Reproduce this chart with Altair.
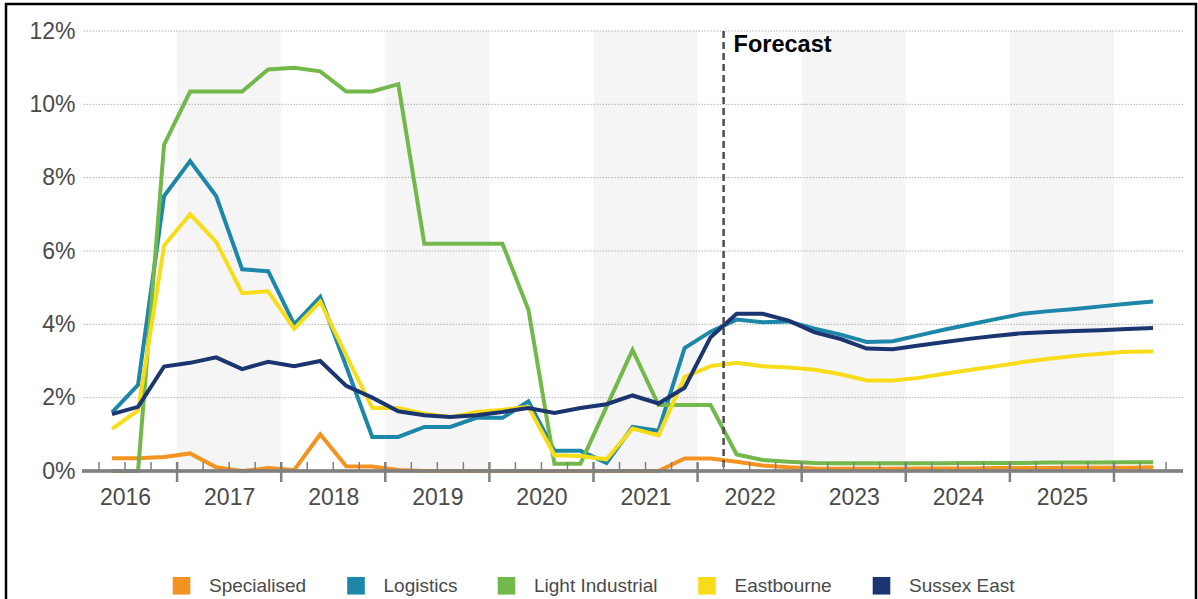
import altair as alt
import pandas as pd

# ---------------- data ----------------
series_names = ["Specialised", "Logistics", "Light Industrial", "Eastbourne", "Sussex East"]
series_colors = ["#F39322", "#1D87A9", "#73B84B", "#F8DC1A", "#1B3570"]

# quarterly observations, 2016 Q2 .. 2026 Q2
quarters = [f"{y} Q{q}" for y in range(2016, 2027) for q in range(1, 5)][1:42]

specialised = [0.35, 0.35, 0.38, 0.48, 0.10, 0.00, 0.08, 0.03, 1.00, 0.13,
               0.12, 0.03, 0.00, 0.00, 0.00, 0.00, 0.00, 0.00, 0.00, 0.00,
               0.00, 0.00, 0.34, 0.34, 0.25, 0.15, 0.10,
               0.07, 0.06, 0.06, 0.06, 0.07, 0.07, 0.07, 0.08, 0.08, 0.08, 0.09, 0.09, 0.09, 0.10]
logistics = [1.60, 2.35, 7.50, 8.45, 7.50, 5.50, 5.45, 4.00, 4.75, 2.85,
             0.93, 0.93, 1.20, 1.20, 1.45, 1.45, 1.90, 0.55, 0.55, 0.22,
             1.20, 1.10, 3.35, 3.80, 4.13, 4.06, 4.08,
             3.88, 3.72, 3.52, 3.54, 3.70, 3.86, 4.00, 4.15, 4.29, 4.36, 4.42, 4.49, 4.56, 4.62]
light_industrial = [0.00, 0.00, 8.90, 10.35, 10.35, 10.35, 10.95, 11.00, 10.90, 10.35,
                    10.35, 10.55, 6.20, 6.20, 6.20, 6.20, 4.40, 0.20, 0.20, 1.75,
                    3.30, 1.80, 1.80, 1.80, 0.45, 0.30, 0.25,
                    0.22, 0.21, 0.21, 0.21, 0.21, 0.21, 0.22, 0.22, 0.22, 0.23, 0.23, 0.23, 0.24, 0.24]
eastbourne = [1.15, 1.65, 6.15, 7.00, 6.25, 4.85, 4.90, 3.88, 4.62, 3.15,
              1.72, 1.72, 1.56, 1.47, 1.61, 1.67, 1.75, 0.43, 0.41, 0.32,
              1.16, 0.97, 2.56, 2.86, 2.95, 2.86, 2.82,
              2.76, 2.64, 2.47, 2.47, 2.54, 2.65, 2.76, 2.86, 2.97, 3.06, 3.14, 3.20, 3.25, 3.26]
sussex_east = [1.55, 1.75, 2.85, 2.95, 3.10, 2.78, 2.98, 2.86, 3.00, 2.32,
               2.00, 1.63, 1.52, 1.47, 1.52, 1.61, 1.72, 1.58, 1.72, 1.82,
               2.06, 1.84, 2.27, 3.65, 4.29, 4.29, 4.10,
               3.78, 3.60, 3.34, 3.32, 3.42, 3.52, 3.61, 3.69, 3.76, 3.79, 3.82, 3.84, 3.87, 3.90]

year_labels = [2016, 2017, 2018, 2019, 2020, 2021, 2022, 2023, 2024, 2025]
shaded_years = [2017, 2019, 2021, 2023, 2025]
y_ticks = [0, 2, 4, 6, 8, 10, 12]
forecast_start = 2022.25
forecast_label = "Forecast"

# ---------------- tables ----------------
def qpos(label):
    y, q = label.split(" Q")
    return int(y) + (int(q) - 0.5) / 4

series_values = [specialised, logistics, light_industrial, eastbourne, sussex_east]
rows = []
for name, vals in zip(series_names, series_values):
    for lab, v in zip(quarters, vals):
        rows.append({"series": name, "quarter": lab, "t": qpos(lab), "value": v})
df = pd.DataFrame(rows)

X_MIN, X_MAX = 2016.0865, 2026.663
bands_df = pd.DataFrame({"start": shaded_years, "end": [y + 1 for y in shaded_years]})
grid_df = pd.DataFrame({"v": [v for v in y_ticks if v > 0]})
major_df = pd.DataFrame({"t": [y for y in range(2017, 2027)]})
minor_df = pd.DataFrame({"t": [y + k / 4 for y in range(2016, 2027) for k in (1, 2, 3)
                               if y + k / 4 <= X_MAX]})
fc_df = pd.DataFrame({"t": [forecast_start], "label": [forecast_label]})

W, H = 1101, 440
FONT = "Liberation Sans"
AXIS_GREY = "#808080"

xscale = alt.Scale(domain=[X_MIN, X_MAX], nice=False, zero=False)
yscale = alt.Scale(domain=[0, 12], nice=False, zero=True)
cscale = alt.Scale(domain=series_names, range=series_colors)

x_axis = alt.Axis(values=[y + 0.5 for y in year_labels], labelExpr="floor(datum.value)",
                  title=None, grid=False, domain=False, ticks=False, tickSize=0,
                  labelFontSize=23, labelColor="#4a4a4a", labelFont=FONT,
                  labelPadding=15, labelFlush=False)
y_axis = alt.Axis(values=y_ticks, labelExpr="datum.value + '%'", title=None,
                  grid=False, domain=False, ticks=False, tickSize=0,
                  labelFontSize=23, labelColor="#4a4a4a", labelFont=FONT,
                  labelPadding=7)

bands = alt.Chart(bands_df).mark_rect(color="#f5f5f5").encode(
    x=alt.X("start:Q", scale=xscale, axis=x_axis),
    x2="end:Q",
    y=alt.value(0), y2=alt.value(H),
)

grid = alt.Chart(grid_df).mark_rule(color="#b0b0b0", strokeDash=[1.5, 1.5], strokeWidth=1).encode(
    y=alt.Y("v:Q", scale=yscale, axis=y_axis)
)

legend_layer = alt.Chart(df).mark_square(size=0, filled=True, opacity=1).encode(
    x=alt.X("t:Q", scale=xscale),
    y=alt.Y("value:Q", scale=yscale),
    color=alt.Color("series:N", scale=cscale, legend=alt.Legend(
        title=None, orient="none", direction="horizontal",
        legendX=90, legendY=545, symbolType="square", symbolSize=310,
        symbolStrokeWidth=0, labelFontSize=19, labelFont=FONT, labelColor="#4a4a4a",
        labelOffset=18, columnPadding=39.5, padding=0)),
)

lines = alt.Chart(df).mark_line(strokeWidth=4).encode(
    x=alt.X("t:Q", scale=xscale),
    y=alt.Y("value:Q", scale=yscale),
    color=alt.Color("series:N", scale=cscale, legend=None),
    order=alt.Order("t:Q"),
)

fc_rule = alt.Chart(fc_df).mark_rule(color="#4d4d4d", strokeDash=[7, 4], strokeWidth=2.5).encode(
    x=alt.X("t:Q", scale=xscale)
)
fc_text = alt.Chart(fc_df).mark_text(align="left", baseline="alphabetic", dx=10,
                                     fontSize=23.5, fontWeight="bold", font=FONT,
                                     color="#000000").encode(
    x=alt.X("t:Q", scale=xscale), y=alt.value(21), text="label:N"
)

axis_line = alt.Chart(grid_df).mark_rule(color=AXIS_GREY, strokeWidth=2.5).encode(
    y=alt.datum(0, type="quantitative")
)
major_ticks = alt.Chart(major_df).mark_rule(color=AXIS_GREY, strokeWidth=2.5).encode(
    x=alt.X("t:Q", scale=xscale), y=alt.value(H - 9), y2=alt.value(H + 11)
)
minor_ticks = alt.Chart(minor_df).mark_rule(color=AXIS_GREY, strokeWidth=1.5).encode(
    x=alt.X("t:Q", scale=xscale), y=alt.value(H - 9), y2=alt.value(H)
)

frame = alt.Chart(fc_df).mark_rect(filled=False, stroke="#000000", strokeWidth=2.5).encode(
    x=alt.value(-76), x2=alt.value(W + 13), y=alt.value(-27), y2=alt.value(H + 160)
)

chart = alt.layer(
    bands, grid, legend_layer, lines, fc_rule, fc_text,
    axis_line, minor_ticks, major_ticks, frame
).properties(
    width=W, height=H,
    autosize=alt.AutoSizeParams(type="none"),
    padding={"left": 82, "top": 31, "right": 15, "bottom": 128},
    background="white",
).configure_view(stroke=None)

chart.save("out.html", embed_options={"renderer": "svg", "actions": False})
